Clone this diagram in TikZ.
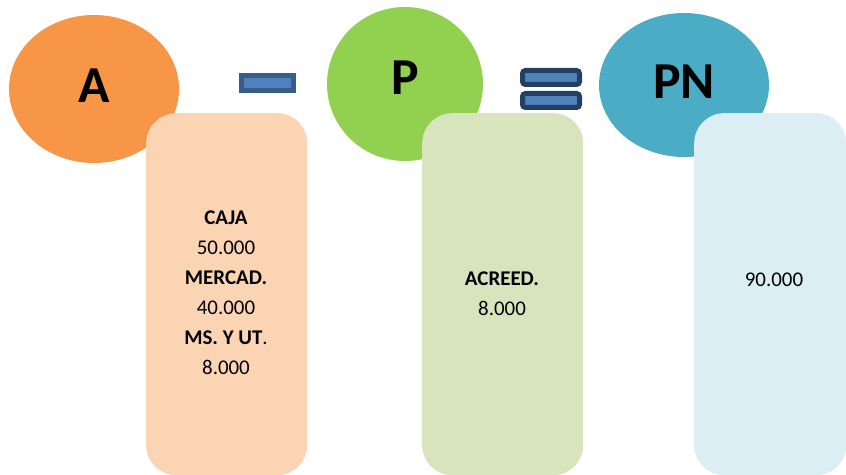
\documentclass[tikz,border=0pt]{standalone}
\usepackage{fontspec}
\setmainfont{Carlito}
\usepackage{xcolor}
\usetikzlibrary{shapes.geometric,positioning}

\definecolor{orangeA}{HTML}{F79646}
\definecolor{peachA}{HTML}{FBD4B4}
\definecolor{greenP}{HTML}{92D050}
\definecolor{paleP}{HTML}{D8E4BC}
\definecolor{bluePN}{HTML}{4BACC6}
\definecolor{palePN}{HTML}{DAEEF3}
\definecolor{signfill}{HTML}{4F81BD}
\definecolor{minusline}{HTML}{385D8A}
\definecolor{equalline}{HTML}{243F60}

\tikzset{
    bubble/.style={ellipse,draw=none,inner sep=0pt},
    bigletter/.style={font=\fontsize{52}{52}\selectfont\bfseries,inner sep=0pt},
    column/.style={rounded corners=30bp,draw=none,inner sep=0pt,anchor=north west,
        minimum width=161bp,minimum height=362bp},
    amount/.style={font=\fontsize{21}{30.2}\selectfont,align=center,inner sep=0pt},
    signbar/.style={fill=signfill,line width=5bp,inner sep=0pt}
}

\begin{document}
\begin{tikzpicture}[x=1bp,y=-1bp]
    \useasboundingbox (0,0) rectangle (846,475);

    % Circles
    \node[bubble,fill=orangeA,minimum width=170bp,minimum height=148bp] (bubA) at (94,89) {};
    \node[bubble,fill=greenP,minimum width=156bp,minimum height=154bp] (bubP) at (405,84) {};
    \node[bubble,fill=bluePN,minimum width=170bp,minimum height=144bp] (bubPN) at (684,85) {};

    % Letters
    \node[bigletter] (letA) at (94,86) {A};
    \node[bigletter] (letP) at (405,78) {P};
    \node[bigletter] (letPN) at (684,82) {PN};

    % Columns
    \node[column,fill=peachA] (colA) at (146,113) {};
    \node[column,fill=paleP] (colP) at (422,113) {};
    \node[column,fill=palePN,minimum width=152bp] (colPN) at (694,113) {};

    % Amounts
    \node[amount] (txtA) at (226,293) {\textbf{CAJA}\\50.000\\\textbf{MERCAD.}\\40.000\\\textbf{MS. Y UT}.\\8.000};
    \node[amount] (txtP) at (502,294) {\textbf{ACREED.}\\8.000};
    \node[amount] (txtPN) at (774,280) {90.000};

    % Signs
    \node[signbar,draw=minusline,minimum width=52bp,minimum height=15bp] (minus) at (267.5,83) {};
    \node[signbar,draw=equalline,rounded corners=3bp,minimum width=57bp,minimum height=14bp] (eqtop) at (551,77.5) {};
    \node[signbar,draw=equalline,rounded corners=3bp,minimum width=57bp,minimum height=14bp] (eqbot) at (551,100.5) {};
\end{tikzpicture}
\end{document}
